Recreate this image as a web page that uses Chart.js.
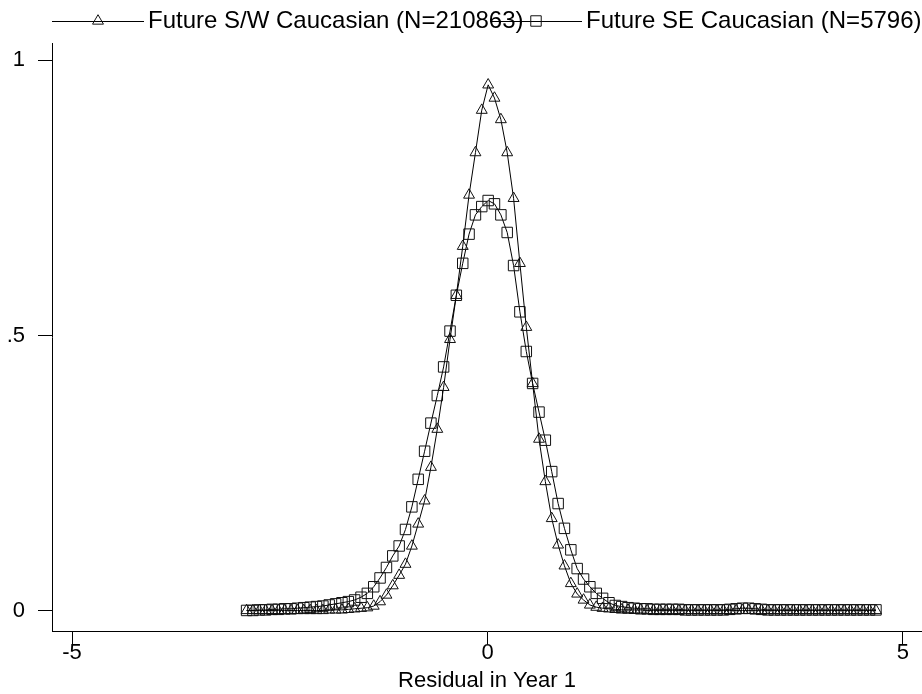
<!DOCTYPE html>
<html><head><meta charset="utf-8">
<script src="https://cdn.jsdelivr.net/npm/chart.js@4/dist/chart.umd.min.js"></script>
<style>html,body{margin:0;padding:0;background:#fff}#wrap{width:922px;height:694px;position:relative}</style>
</head><body><div id="wrap"><canvas id="c" width="922" height="694"></canvas></div>
<script>
// Evaluation grid (residual values)
const residual = [
 -2.899,-2.823,-2.746,-2.670,-2.593,-2.517,-2.440,-2.364,-2.287,-2.211,
 -2.134,-2.058,-1.981,-1.905,-1.828,-1.752,-1.675,-1.599,-1.522,-1.446,
 -1.369,-1.293,-1.216,-1.140,-1.063,-0.987,-0.910,-0.834,-0.757,-0.681,
 -0.604,-0.528,-0.451,-0.375,-0.298,-0.222,-0.145,-0.069,0.008,0.084,
 0.161,0.237,0.314,0.390,0.467,0.543,0.620,0.696,0.773,0.850,
 0.926,1.003,1.079,1.156,1.232,1.309,1.385,1.462,1.538,1.615,
 1.691,1.768,1.844,1.921,1.997,2.074,2.150,2.227,2.303,2.380,
 2.456,2.533,2.609,2.686,2.762,2.839,2.915,2.992,3.068,3.145,
 3.221,3.298,3.374,3.451,3.527,3.604,3.680,3.757,3.833,3.910,
 3.986,4.063,4.139,4.216,4.292,4.369,4.445,4.522,4.598,4.675
];
// Density, Future S/W Caucasian (triangles)
const swCaucasian = [
 0.001,0.001,0.001,0.001,0.001,0.001,0.001,0.001,0.001,0.001,
 0.001,0.001,0.001,0.002,0.002,0.002,0.003,0.004,0.005,0.006,
 0.009,0.017,0.029,0.046,0.065,0.085,0.118,0.158,0.200,0.261,
 0.330,0.406,0.493,0.573,0.662,0.755,0.832,0.909,0.955,0.931,
 0.892,0.832,0.749,0.631,0.515,0.413,0.312,0.235,0.168,0.120,
 0.082,0.050,0.031,0.020,0.011,0.007,0.005,0.004,0.003,0.002,
 0.002,0.002,0.002,0.001,0.001,0.001,0.001,0.001,0.001,0.001,
 0.001,0.001,0.001,0.001,0.001,0.001,0.001,0.001,0.001,0.001,
 0.001,0.001,0.001,0.001,0.001,0.001,0.001,0.001,0.001,0.001,
 0.001,0.001,0.001,0.001,0.001,0.001,0.001,0.001,0.001,0.001
];
// Density, Future SE Caucasian (squares)
const seCaucasian = [
 0.001,0.001,0.002,0.002,0.003,0.003,0.004,0.004,0.005,0.006,
 0.007,0.008,0.009,0.011,0.013,0.015,0.017,0.020,0.025,0.032,
 0.044,0.060,0.079,0.100,0.118,0.148,0.189,0.239,0.290,0.341,
 0.391,0.443,0.508,0.573,0.631,0.684,0.719,0.734,0.745,0.739,
 0.719,0.687,0.627,0.543,0.471,0.413,0.361,0.310,0.253,0.195,
 0.150,0.111,0.077,0.058,0.044,0.032,0.023,0.015,0.010,0.008,
 0.006,0.005,0.004,0.004,0.003,0.003,0.003,0.003,0.003,0.002,
 0.002,0.002,0.002,0.002,0.002,0.002,0.003,0.004,0.005,0.005,
 0.004,0.003,0.002,0.002,0.002,0.002,0.002,0.002,0.002,0.002,
 0.002,0.002,0.002,0.002,0.002,0.002,0.002,0.002,0.002,0.002
];
const seriesNames = ['Future S/W Caucasian (N=210863)', 'Future SE Caucasian (N=5796)'];
const xTicks = [-5, 0, 5];
const xTickLabels = ['-5', '0', '5'];
const yTicks = [0, 0.5, 1];
const yTickLabels = ['0', '.5', '1'];
const xTitle = 'Residual in Year 1';

const FONT = 'Liberation Sans, Arial, Helvetica, sans-serif';

function pts(ys) { return residual.map((x, i) => ({x: x, y: ys[i]})); }

const legendPlugin = {
  id: 'stataLegend',
  afterDraw(chart) {
    const ctx = chart.ctx;
    const y = 21;
    const starts = [52, 490];
    chart.data.datasets.forEach((ds, i) => {
      const x0 = starts[i], x1 = x0 + 92;
      ctx.save();
      ctx.strokeStyle = ds.borderColor;
      ctx.lineWidth = 1;
      ctx.beginPath(); ctx.moveTo(x0, y + 0.5); ctx.lineTo(x1, y + 0.5); ctx.stroke();
      ctx.strokeStyle = ds.pointBorderColor;
      ctx.lineWidth = ds.pointBorderWidth;
      ctx.fillStyle = 'rgba(0,0,0,0)';
      Chart.helpers.drawPoint(ctx, {pointStyle: ds.pointStyle, radius: ds.pointRadius, borderWidth: 1}, (x0 + x1) / 2, y);
      ctx.fillStyle = '#000';
      ctx.font = '24px ' + FONT;
      ctx.textBaseline = 'middle';
      ctx.textAlign = 'left';
      ctx.fillText(seriesNames[i], x1 + 4, y);
      ctx.restore();
    });
  }
};

new Chart(document.getElementById('c'), {
  type: 'scatter',
  data: {
    datasets: [
      {label: seriesNames[0], data: pts(swCaucasian), showLine: true, tension: 0,
       borderColor: '#000', borderWidth: 1, pointStyle: 'triangle', pointRadius: 6.3,
       pointBorderColor: '#111', pointBorderWidth: 1, pointBackgroundColor: 'rgba(0,0,0,0)'},
      {label: seriesNames[1], data: pts(seCaucasian), showLine: true, tension: 0,
       borderColor: '#000', borderWidth: 1, pointStyle: 'rect', pointRadius: 7.4,
       pointBorderColor: '#111', pointBorderWidth: 1, pointBackgroundColor: 'rgba(0,0,0,0)'}
    ]
  },
  options: {
    responsive: false, animation: false, devicePixelRatio: 1,
    layout: {autoPadding: false, padding: {top: 43, left: 0, right: 0, bottom: 0}},
    plugins: {legend: {display: false}, tooltip: {enabled: false}},
    scales: {
      x: {
        type: 'linear', min: -5.241, max: 5.229,
        afterBuildTicks: s => { s.ticks = xTicks.map(v => ({value: v})); },
        afterFit: s => { s.height = 63; s.paddingLeft = 0; s.paddingRight = 0; },
        ticks: {callback: v => xTickLabels[xTicks.indexOf(v)], color: '#000', padding: -4,
                maxRotation: 0, autoSkip: false, font: {family: FONT, size: 22}},
        grid: {drawOnChartArea: false, drawTicks: true, tickLength: 13, color: '#000', lineWidth: 1},
        border: {display: true, color: '#000', width: 1},
        title: {display: true, text: xTitle, color: '#000', font: {family: FONT, size: 22}, padding: {top: 0, bottom: 0}}
      },
      y: {
        type: 'linear', min: -0.0363, max: 1.0309,
        afterBuildTicks: s => { s.ticks = yTicks.map(v => ({value: v})); },
        afterFit: s => { s.width = 52; s.paddingTop = 0; s.paddingBottom = 0; },
        ticks: {callback: v => yTickLabels[yTicks.indexOf(v)], color: '#000', padding: 13,
                autoSkip: false, font: {family: FONT, size: 22}},
        grid: {drawOnChartArea: false, drawTicks: true, tickLength: 14, color: '#000', lineWidth: 1},
        border: {display: true, color: '#000', width: 1}
      }
    }
  },
  plugins: [legendPlugin]
});
</script>
</body></html>
